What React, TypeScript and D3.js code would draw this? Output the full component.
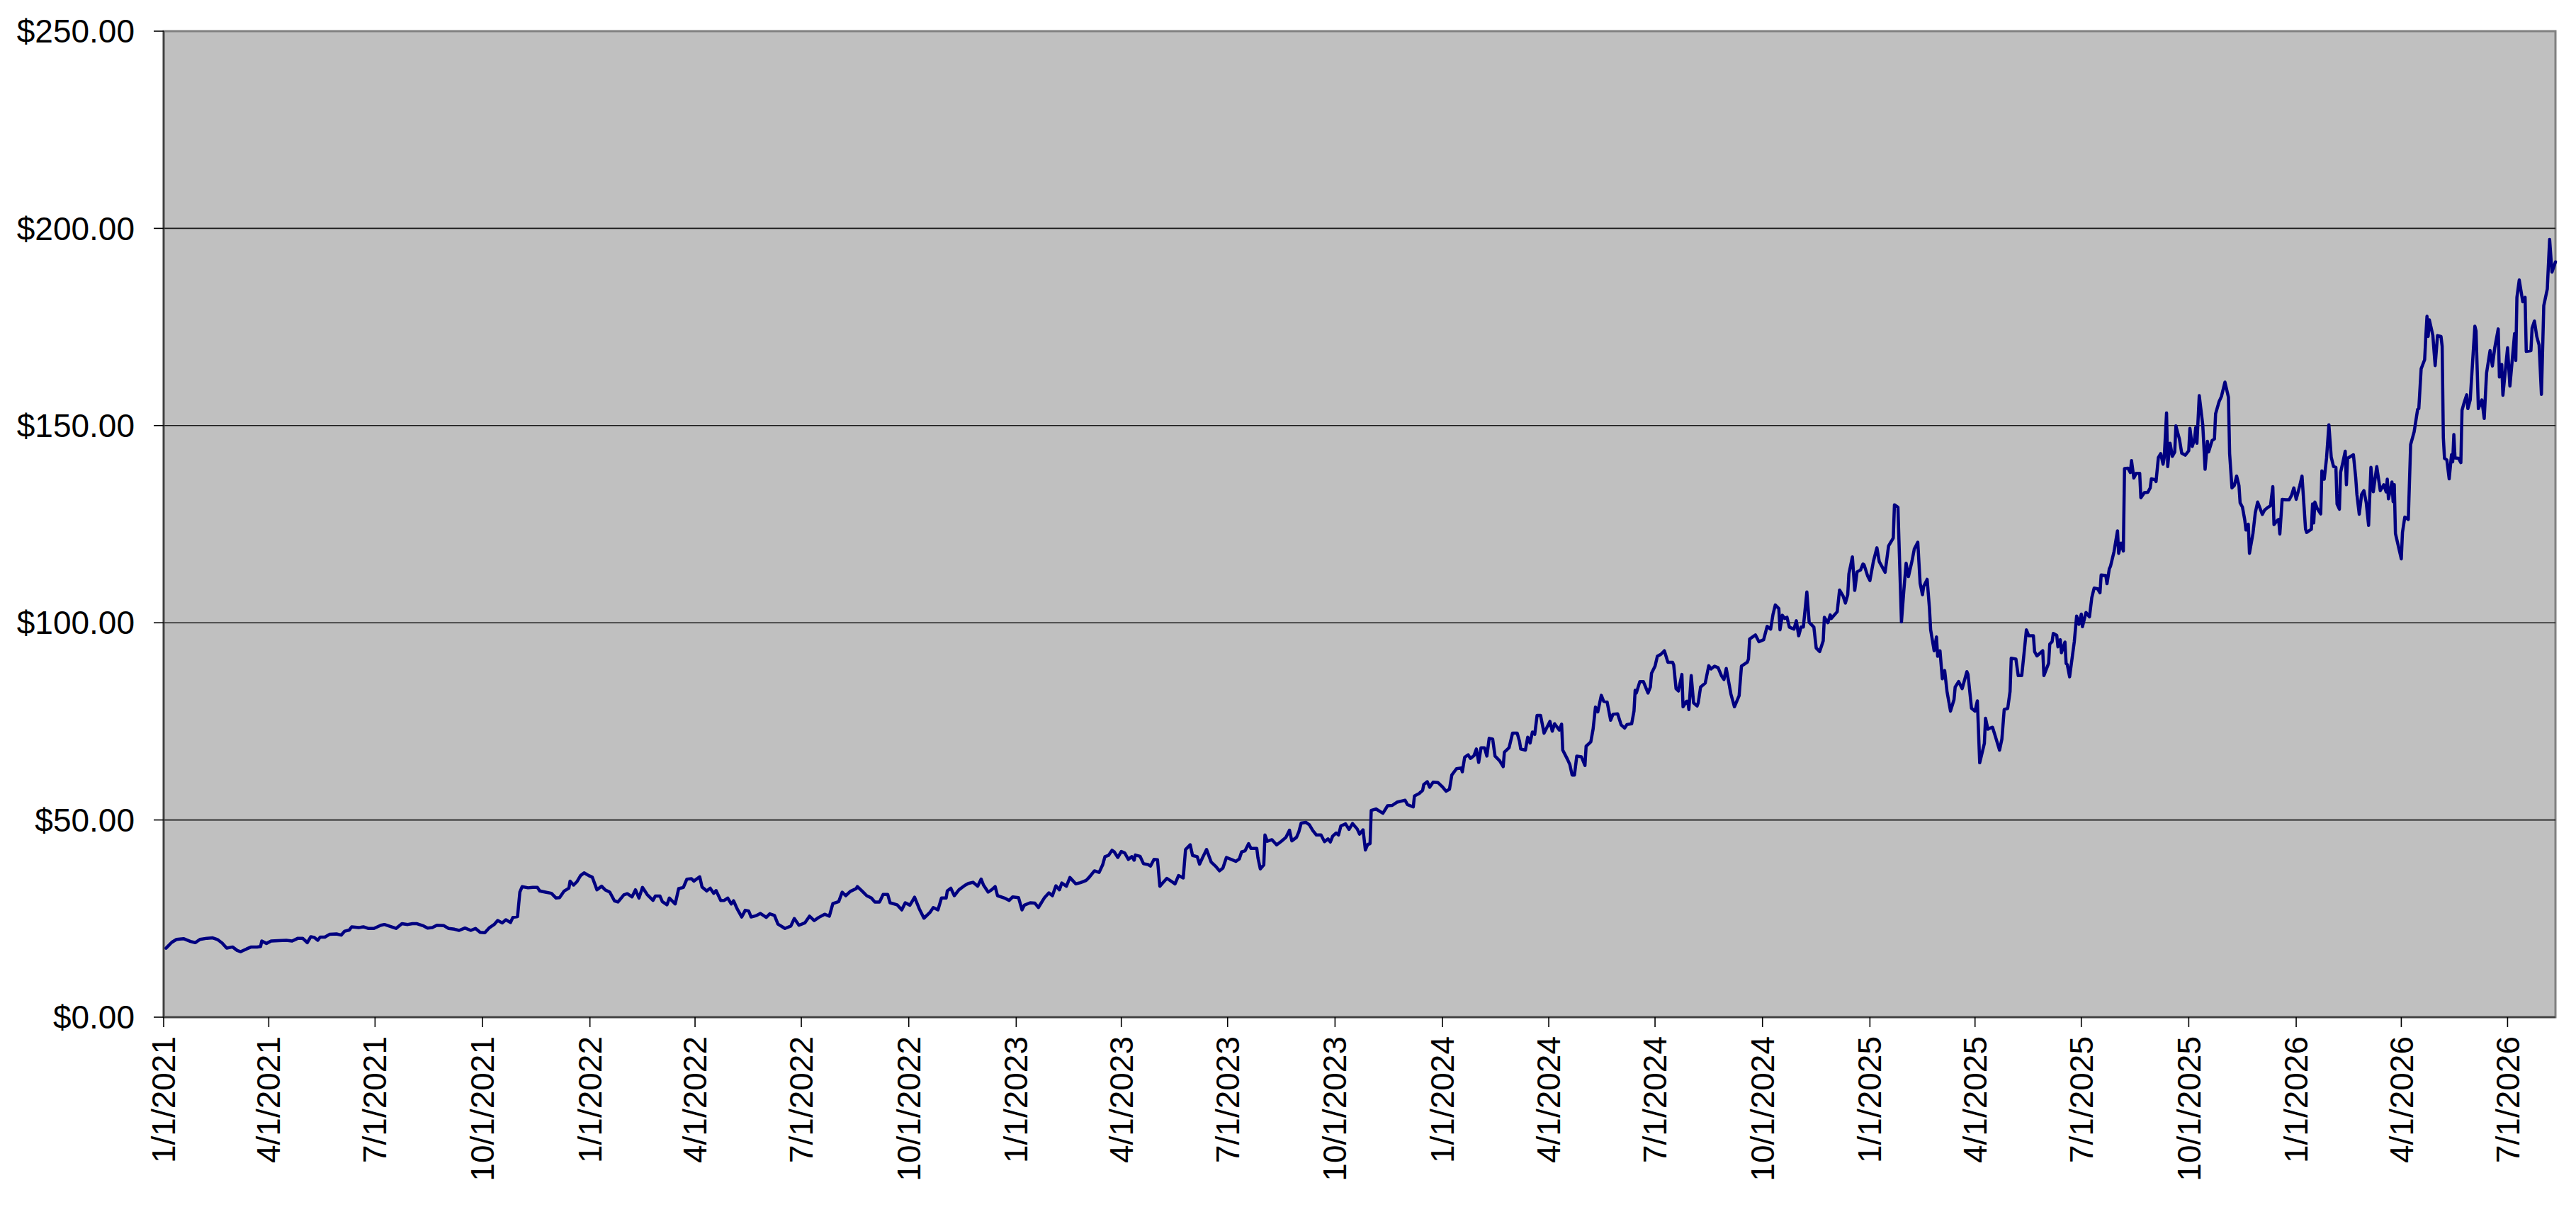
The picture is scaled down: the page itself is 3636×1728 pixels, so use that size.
import React from "react";
import * as d3 from "d3";

// Day offsets are days since 1/1/2021; prices are the closing values.
const START = Date.UTC(2021, 0, 1);
const END_DAY = 2048;

const days2021 = [2, 7, 11, 17, 23, 27, 31, 37, 42, 46, 50, 54, 59, 63, 66, 71, 75, 80, 83, 84, 88, 92, 98, 105, 110, 115, 119, 123, 126, 129, 132, 134, 138, 142, 148, 152, 155, 159, 161, 167, 171, 175, 180, 186, 189, 194, 199, 204, 209, 213, 217, 222, 226, 230, 234, 240, 244, 249, 253, 258, 263, 267, 271, 275, 279, 283, 286, 290, 293, 297, 299, 303, 305, 307, 312, 316, 320, 322, 327, 332, 336, 339, 343, 347, 348, 351, 354, 357, 360, 364];
const prices2021 = [17.5, 19.0, 19.7, 19.9, 19.2, 18.9, 19.7, 20.0, 20.1, 19.7, 18.8, 17.5, 17.8, 16.9, 16.6, 17.3, 17.8, 17.8, 17.9, 19.3, 18.7, 19.3, 19.4, 19.5, 19.3, 20.0, 20.0, 18.9, 20.4, 20.2, 19.5, 20.3, 20.3, 21.0, 21.1, 20.8, 21.8, 22.1, 22.9, 22.7, 22.9, 22.5, 22.5, 23.3, 23.5, 23.0, 22.5, 23.7, 23.5, 23.7, 23.7, 23.2, 22.6, 22.7, 23.3, 23.2, 22.5, 22.3, 22.0, 22.6, 22.0, 22.5, 21.5, 21.4, 22.7, 23.5, 24.5, 23.9, 24.7, 24.0, 25.3, 25.5, 31.7, 33.1, 32.8, 32.9, 32.9, 32.0, 31.7, 31.4, 30.2, 30.3, 32.0, 32.7, 34.5, 33.5, 34.4, 35.9, 36.6, 35.9];

const days2022 = [367, 371, 375, 378, 382, 386, 389, 394, 397, 401, 404, 407, 410, 414, 419, 421, 425, 427, 431, 433, 438, 441, 445, 448, 452, 454, 459, 461, 465, 468, 471, 473, 477, 480, 483, 486, 488, 491, 495, 498, 501, 503, 507, 511, 516, 519, 523, 526, 532, 537, 540, 544, 549, 553, 557, 561, 566, 570, 573, 578, 581, 584, 588, 593, 594, 598, 602, 606, 609, 613, 616, 620, 622, 628, 632, 635, 639, 643, 647, 651, 656, 659, 663, 666, 670, 671, 674, 677, 681, 686, 689, 693, 697, 700, 702, 706, 709, 712, 714, 720, 724, 727];
const prices2022 = [35.5, 32.3, 33.2, 32.3, 31.7, 29.5, 29.2, 31.0, 31.3, 30.5, 32.3, 30.2, 32.9, 31.1, 29.6, 30.7, 30.7, 29.3, 28.5, 30.2, 28.7, 32.6, 32.9, 35.0, 35.1, 34.5, 35.6, 33.0, 32.0, 32.7, 31.4, 32.1, 29.6, 29.6, 30.2, 28.7, 29.5, 27.5, 25.4, 27.1, 26.9, 25.4, 25.7, 26.3, 25.3, 26.2, 25.8, 23.6, 22.5, 23.1, 25.0, 23.3, 23.9, 25.6, 24.5, 25.3, 26.1, 25.6, 28.8, 29.3, 31.7, 30.8, 31.9, 32.6, 33.1, 32.0, 30.8, 30.2, 29.2, 29.2, 31.1, 31.1, 29.0, 28.5, 27.2, 29.0, 28.4, 30.4, 27.5, 25.1, 26.5, 27.8, 27.2, 30.2, 30.2, 32.0, 32.7, 30.8, 32.3, 33.4, 33.9, 34.2, 33.2, 35.0, 33.5, 31.7, 32.3, 33.1, 30.8, 30.2, 29.6, 30.5];

const days2023 = [732, 735, 737, 742, 746, 749, 754, 758, 761, 764, 767, 769, 773, 776, 781, 785, 790, 792, 797, 801, 804, 806, 809, 812, 814, 817, 820, 823, 826, 829, 831, 832, 836, 839, 843, 845, 848, 851, 853, 856, 859, 863, 866, 869, 873, 875, 879, 881, 885, 887, 890, 893, 897, 901, 904, 907, 910, 915, 918, 921, 923, 926, 929, 931, 936, 937, 939, 942, 943, 945, 949, 953, 957, 961, 964, 966, 970, 972, 974, 978, 981, 984, 987, 991, 994, 997, 999, 1001, 1004, 1006, 1008, 1012, 1015, 1018, 1022, 1024, 1027, 1029, 1031, 1033, 1034, 1038, 1044, 1048, 1052, 1056, 1060, 1063, 1065, 1070, 1071, 1075, 1078, 1079, 1082, 1084, 1087, 1091];
const prices2023 = [30.3, 27.2, 28.4, 29.0, 28.9, 27.8, 30.2, 31.5, 30.8, 33.3, 32.3, 34.0, 33.2, 35.4, 33.8, 34.1, 34.7, 35.3, 37.1, 36.7, 38.6, 40.7, 41.0, 42.3, 41.9, 40.5, 42.0, 41.6, 40.0, 40.7, 39.8, 41.1, 40.8, 38.9, 38.7, 38.3, 40.0, 39.9, 33.2, 34.2, 35.2, 34.4, 33.8, 35.9, 35.3, 42.5, 43.7, 41.0, 40.7, 38.8, 40.7, 42.5, 39.3, 38.2, 37.1, 37.8, 40.5, 39.9, 39.5, 40.1, 41.9, 42.2, 44.0, 42.8, 42.8, 40.4, 37.6, 38.6, 46.2, 44.6, 45.0, 43.7, 44.6, 45.6, 47.4, 44.7, 45.6, 47.0, 49.2, 49.4, 48.8, 47.3, 46.2, 46.2, 44.5, 45.2, 44.4, 45.9, 46.7, 46.2, 48.5, 49.0, 47.6, 49.1, 47.7, 46.4, 47.5, 42.4, 43.8, 44.0, 52.4, 52.8, 51.7, 53.6, 53.7, 54.5, 54.8, 55.0, 53.9, 53.3, 56.1, 56.7, 57.5, 59.0, 59.7, 58.3, 59.6, 59.5];

const days2024 = [1095, 1098, 1101, 1103, 1107, 1111, 1112, 1114, 1117, 1119, 1122, 1124, 1126, 1128, 1131, 1133, 1135, 1138, 1140, 1144, 1147, 1148, 1152, 1155, 1159, 1161, 1162, 1166, 1168, 1170, 1172, 1174, 1176, 1179, 1182, 1187, 1189, 1191, 1195, 1197, 1198, 1202, 1204, 1206, 1208, 1210, 1214, 1217, 1218, 1222, 1224, 1226, 1228, 1231, 1233, 1236, 1239, 1241, 1245, 1248, 1251, 1253, 1257, 1259, 1260, 1261, 1264, 1267, 1271, 1273, 1274, 1277, 1279, 1282, 1285, 1288, 1292, 1293, 1295, 1297, 1300, 1301, 1304, 1305, 1306, 1308, 1310, 1313, 1314, 1316, 1320, 1323, 1325, 1328, 1331, 1334, 1336, 1338, 1342, 1345, 1349, 1351, 1356, 1357, 1358, 1363, 1366, 1370, 1373, 1376, 1378, 1380, 1383, 1384, 1386, 1388, 1390, 1392, 1396, 1398, 1400, 1402, 1404, 1407, 1409, 1413, 1415, 1418, 1421, 1422, 1425, 1427, 1428, 1433, 1435, 1438, 1440, 1442, 1443, 1446, 1448, 1450, 1453, 1455, 1456, 1459];
const prices2024 = [58.4, 57.3, 57.8, 61.4, 63.0, 63.2, 62.2, 65.9, 66.5, 65.6, 66.3, 68.0, 64.6, 68.3, 68.3, 66.2, 70.7, 70.5, 66.2, 65.0, 63.5, 67.2, 68.3, 72.0, 72.0, 69.9, 68.0, 67.7, 71.0, 69.5, 72.3, 71.7, 76.5, 76.5, 72.0, 75.0, 72.5, 74.4, 72.8, 74.3, 67.7, 65.4, 64.1, 61.4, 61.4, 66.2, 66.0, 63.8, 68.7, 69.8, 73.1, 78.6, 77.4, 81.6, 80.1, 79.9, 75.3, 76.8, 76.9, 74.1, 73.3, 74.2, 74.4, 77.6, 82.9, 82.2, 85.1, 85.1, 82.2, 83.7, 87.2, 89.0, 91.5, 92.0, 92.9, 90.0, 90.0, 89.3, 83.3, 82.7, 86.9, 78.7, 80.1, 80.1, 78.0, 86.6, 79.7, 78.9, 79.7, 83.7, 84.7, 89.1, 88.3, 89.0, 88.6, 86.5, 85.6, 88.4, 81.9, 78.7, 81.5, 89.0, 90.0, 90.8, 95.9, 96.9, 95.2, 95.7, 99.1, 98.4, 102.1, 104.5, 103.6, 98.2, 101.9, 101.1, 101.4, 98.9, 98.4, 100.5, 96.7, 98.9, 98.9, 107.8, 100.1, 98.9, 93.6, 92.7, 95.4, 101.4, 100.0, 102.0, 101.1, 102.8, 108.3, 106.8, 105.0, 107.1, 112.4, 116.7, 108.2, 112.9, 113.4, 114.9, 114.7, 111.9];

const days2025 = [1461, 1464, 1467, 1469, 1472, 1474, 1477, 1480, 1481, 1482, 1485, 1488, 1490, 1492, 1494, 1497, 1499, 1502, 1504, 1506, 1507, 1510, 1512, 1513, 1516, 1518, 1519, 1521, 1523, 1525, 1527, 1530, 1533, 1534, 1537, 1540, 1544, 1545, 1548, 1551, 1553, 1555, 1559, 1560, 1562, 1564, 1566, 1568, 1572, 1574, 1576, 1579, 1581, 1582, 1586, 1588, 1591, 1593, 1595, 1597, 1601, 1602, 1604, 1609, 1610, 1614, 1615, 1617, 1618, 1621, 1622, 1624, 1625, 1628, 1629, 1630, 1632, 1636, 1638, 1640, 1642, 1643, 1646, 1649, 1651, 1653, 1656, 1658, 1659, 1663, 1664, 1666, 1667, 1670, 1673, 1674, 1676, 1678, 1679, 1682, 1684, 1685, 1687, 1689, 1692, 1693, 1696, 1699, 1701, 1702, 1705, 1706, 1708, 1710, 1712, 1713, 1715, 1716, 1717, 1718, 1720, 1722, 1723, 1726, 1728, 1731, 1734, 1735, 1737, 1739, 1740, 1741, 1743, 1746, 1748, 1750, 1751, 1754, 1756, 1757, 1760, 1762, 1765, 1768, 1769, 1771, 1773, 1775, 1777, 1778, 1780, 1782, 1783, 1785, 1786, 1789, 1791, 1793, 1797, 1799, 1802, 1804, 1806, 1807, 1810, 1811, 1812, 1814, 1817, 1820, 1822, 1824];
const prices2025 = [110.7, 115.6, 119.0, 115.5, 113.9, 112.8, 119.5, 121.0, 121.5, 129.9, 129.3, 100.2, 108.0, 115.1, 111.7, 115.6, 118.7, 120.4, 110.0, 107.1, 109.2, 111.0, 103.6, 98.2, 92.9, 96.4, 91.5, 92.9, 85.8, 87.9, 82.6, 77.6, 80.5, 83.7, 85.1, 83.3, 87.6, 86.9, 78.3, 77.6, 80.2, 64.5, 69.4, 75.8, 73.0, 73.3, 73.5, 71.6, 67.7, 70.5, 78.0, 78.3, 82.6, 91.0, 90.8, 86.6, 86.6, 92.3, 98.2, 96.7, 96.7, 92.7, 91.6, 92.9, 86.6, 89.7, 94.6, 95.2, 97.3, 96.8, 93.9, 95.7, 92.4, 95.1, 89.7, 89.4, 86.3, 95.2, 101.7, 99.6, 102.2, 99.0, 102.6, 101.5, 106.4, 108.8, 108.6, 107.6, 112.1, 112.0, 109.9, 113.7, 114.3, 118.0, 123.3, 117.6, 120.2, 118.2, 139.1, 139.2, 138.1, 141.1, 136.7, 137.9, 137.9, 131.7, 133.0, 133.1, 134.2, 136.5, 136.3, 135.8, 141.9, 142.9, 140.2, 141.8, 153.2, 139.6, 142.9, 145.5, 142.2, 143.3, 149.9, 146.6, 143.0, 142.5, 143.6, 149.3, 144.7, 146.6, 149.5, 145.5, 157.6, 150.2, 138.9, 146.0, 143.3, 146.2, 146.6, 153.0, 156.1, 157.4, 161.0, 157.2, 142.9, 134.2, 134.8, 137.2, 134.8, 130.4, 129.3, 126.0, 123.5, 125.0, 117.6, 122.7, 127.9, 130.6, 127.5, 128.6, 129.3, 129.7, 134.5, 124.9, 126.0, 126.2, 122.5, 131.3, 131.2, 131.2, 132.3, 134.2];

const days2026 = [1826, 1829, 1831, 1834, 1835, 1839, 1840, 1841, 1842, 1844, 1847, 1848, 1850, 1852, 1854, 1856, 1858, 1860, 1861, 1863, 1864, 1866, 1868, 1869, 1870, 1875, 1877, 1878, 1880, 1882, 1884, 1886, 1888, 1890, 1892, 1895, 1898, 1901, 1903, 1904, 1905, 1908, 1909, 1910, 1911, 1916, 1917, 1919, 1922, 1924, 1927, 1930, 1931, 1933, 1936, 1937, 1938, 1939, 1940, 1943, 1945, 1947, 1950, 1951, 1952, 1953, 1955, 1957, 1959, 1960, 1961, 1962, 1965, 1967, 1968, 1970, 1972, 1973, 1975, 1979, 1980, 1982, 1985, 1987, 1989, 1992, 1994, 1996, 1999, 2000, 2002, 2003, 2007, 2009, 2013, 2014, 2015, 2017, 2020, 2022, 2023, 2027, 2028, 2030, 2032, 2034, 2036, 2038, 2041, 2043, 2045, 2048];
const prices2026 = [131.3, 134.7, 137.2, 123.8, 122.9, 123.7, 130.1, 125.3, 130.6, 129.0, 127.6, 138.5, 136.4, 141.8, 150.2, 142.0, 139.6, 139.4, 130.1, 128.8, 138.1, 140.7, 143.5, 135.0, 141.7, 142.6, 136.7, 132.5, 127.5, 132.5, 133.5, 130.4, 124.7, 139.4, 133.2, 139.6, 133.5, 135.0, 133.2, 136.4, 131.4, 135.7, 130.7, 135.0, 122.6, 116.2, 122.9, 126.8, 126.2, 145.2, 148.4, 154.1, 154.3, 164.4, 166.7, 172.6, 177.7, 172.6, 176.8, 172.9, 165.2, 172.8, 172.6, 170.1, 147.0, 141.7, 141.3, 136.5, 142.6, 140.8, 147.7, 141.8, 141.7, 140.6, 153.9, 156.0, 157.8, 154.3, 156.5, 175.2, 174.0, 154.3, 156.5, 151.8, 163.3, 169.0, 165.1, 169.7, 174.5, 162.3, 165.5, 157.7, 169.7, 160.0, 173.3, 166.5, 182.5, 186.9, 181.4, 182.5, 168.8, 169.0, 174.7, 176.5, 172.6, 170.4, 157.9, 180.4, 184.6, 197.2, 188.9, 191.5];

const yTickValues = [0, 50, 100, 150, 200, 250];

const allDays = [...days2021, ...days2022, ...days2023, ...days2024, ...days2025, ...days2026];
const allPrices = [...prices2021, ...prices2022, ...prices2023, ...prices2024, ...prices2025, ...prices2026];
const series = allDays.map((d, i) => ({ date: new Date(START + d * 864e5), value: allPrices[i] }));

const W = 3636;
const H = 1728;
const L = 231;
const R = 3607;
const T = 44;
const B = 1436;
const FONT = "'Liberation Sans', Arial, Helvetica, sans-serif";

export default function App() {
  const x = d3
    .scaleUtc()
    .domain([new Date(START), new Date(START + END_DAY * 864e5)])
    .range([L, R]);
  const y = d3.scaleLinear().domain([0, 250]).range([B, T]);
  const xTicks = d3.utcMonth.every(3)!.range(new Date(START), new Date(START + END_DAY * 864e5 + 1));
  const fmtDate = d3.utcFormat("%-m/%-d/%Y");
  const fmtMoney = d3.format("$.2f");
  const line = d3
    .line<{ date: Date; value: number }>()
    .x((d) => x(d.date))
    .y((d) => y(d.value));

  return (
    <svg
      width={W}
      height={H}
      style={{ position: "absolute", left: 0, top: 0, background: "#ffffff" }}
      fontFamily={FONT}
    >
      <rect x={L} y={T} width={R - L} height={B - T} fill="#C0C0C0" stroke="#808080" strokeWidth={3} />
      {yTickValues
        .filter((v) => v > 0 && v < 250)
        .map((v) => (
          <line key={"g" + v} x1={L} x2={R} y1={y(v)} y2={y(v)} stroke="#1a1a1a" strokeWidth={1.6} />
        ))}
      <path d={line(series) || ""} fill="none" stroke="#000080" strokeWidth={4.5} strokeLinejoin="round" strokeLinecap="round" />
      <line x1={L} x2={L} y1={T} y2={B} stroke="#404040" strokeWidth={2.5} />
      <line x1={L} x2={R} y1={B} y2={B} stroke="#404040" strokeWidth={2.5} />
      {yTickValues.map((v) => (
        <g key={"y" + v}>
          <line x1={L - 14} x2={L} y1={y(v)} y2={y(v)} stroke="#000" strokeWidth={1.6} />
          <text x={190} y={y(v)} dy="0.35em" textAnchor="end" fontSize={46} fill="#000">
            {fmtMoney(v)}
          </text>
        </g>
      ))}
      {xTicks.map((t) => (
        <g key={"x" + t.getTime()}>
          <line x1={x(t)} x2={x(t)} y1={B} y2={B + 14} stroke="#000" strokeWidth={1.6} />
          <text
            transform={`translate(${x(t)},${1463}) rotate(-90)`}
            dy="0.35em"
            textAnchor="end"
            fontSize={46}
            fill="#000"
          >
            {fmtDate(t)}
          </text>
        </g>
      ))}
    </svg>
  );
}
